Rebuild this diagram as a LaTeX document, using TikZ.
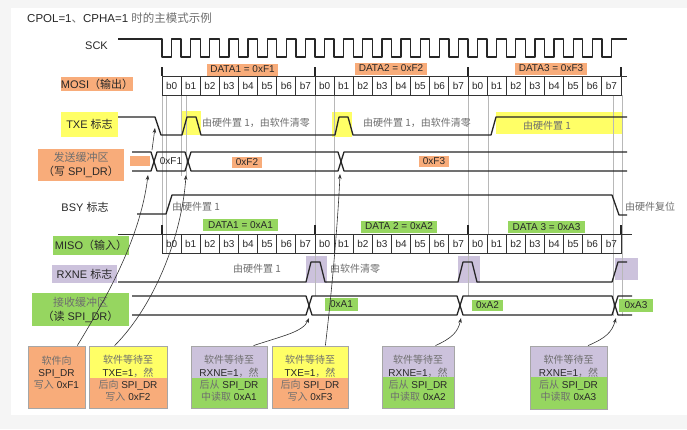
\documentclass[tikz,border=0pt]{standalone}
\usepackage{fontspec}
\setmainfont{Liberation Sans}
\newfontfamily\cjk{Noto Sans CJK SC}
\usetikzlibrary{arrows.meta,calc}
\definecolor{orng}{RGB}{248,172,122}
\definecolor{yel}{RGB}{255,255,102}
\definecolor{grn}{RGB}{150,214,96}
\definecolor{prp}{RGB}{204,194,220}
\definecolor{bgg}{RGB}{245,245,245}
\definecolor{txt}{RGB}{40,40,40}
\definecolor{zh}{RGB}{110,110,110}
\tikzset{
  sig/.style={line width=1.3pt, draw=black!85, line join=round},
  bitbox/.style={draw=black!80, line width=0.8pt},
  bytetick/.style={draw=black!85, line width=1.3pt},
  guide/.style={draw=black!28, line width=0.45pt},
  arr/.style={-{Stealth[length=5pt,width=3.6pt]}, line width=0.6pt, draw=black!80},
  ann/.style={font=\cjk\fontsize{10}{12}\selectfont, text=zh, inner sep=0pt, anchor=west},
  tag/.style={inner sep=0pt, font=\fontsize{10}{12}\selectfont, text=txt},
  bit/.style={inner sep=0pt, font=\fontsize{10}{12}\selectfont, text=txt},
  lab/.style={inner sep=0pt, font=\fontsize{11}{14}\selectfont, text=txt, align=center},
  bxframe/.style={draw=black!35, line width=0.8pt, inner sep=0pt},
  bxtext/.style={inner sep=0pt, font=\fontsize{10}{12.3}\selectfont, text=txt, align=center},
}
\newcommand{\zht}[1]{{\cjk\color{zh}#1}}
\begin{document}
\begin{tikzpicture}[x=1pt,y=-1pt]
\useasboundingbox (0,0) rectangle (687,429);
\fill[bgg] (0,0) rectangle (687,429);
\fill[white] (11,8) rectangle (687,415);

% title
\node[anchor=west, inner sep=0pt, font=\fontsize{11.5}{14}\selectfont, text=txt] (title) at (27,18) {CPOL=1\zht{、}CPHA=1 \zht{时的主模式示例}};

% highlight fills
\fill[yel] (182,111) rectangle (201,135);
\fill[yel] (332,112) rectangle (352,137);
\fill[yel] (496,112) rectangle (622,134);
\fill[prp] (306,256) rectangle (327,283);
\fill[prp] (458,256) rectangle (480,283);
\fill[prp] (615,258) rectangle (638,280);

% guide lines
\foreach \x in {162,166} {\draw[guide] (\x,95) -- (\x,253);}
\foreach \x in {181,186} {\draw[guide] (\x,95) -- (\x,176);}
\foreach \x in {334,488} {\draw[guide] (\x,95) -- (\x,234);}
\foreach \x in {315,468} {\draw[guide] (\x,95) -- (\x,296);}
\foreach \x in {613,622} {\draw[guide] (\x,95) -- (\x,316);}

% left labels
\node[lab] (sckl) at (96.5,46) {SCK};
\node[lab, fill=orng, minimum width=72pt, minimum height=14pt] (mosil) at (97,84) {MOSI{\cjk（输出）}};
\node[lab, fill=yel, minimum width=57pt, minimum height=25pt] (txel) at (89.5,124.5) {TXE {\cjk 标志}};
\node[lab, fill=orng, minimum width=86pt, minimum height=32pt] (txbl) at (81,165) {\zht{发送缓冲区}\\{\cjk（写} SPI\_DR{\cjk）}};
\node[lab] (bsyl) at (85,207) {BSY {\cjk 标志}};
\node[lab, fill=grn, minimum width=76pt, minimum height=19pt] (misol) at (91,245.5) {MISO{\cjk（输入）}};
\node[lab, fill=prp, minimum width=65pt, minimum height=18pt] (rxnel) at (84.5,274) {RXNE {\cjk 标志}};
\node[lab, fill=grn, minimum width=97pt, minimum height=33pt] (rxbl) at (80.5,309.5) {\zht{接收缓冲区}\\{\cjk（读} SPI\_DR{\cjk）}};

% SCK
\draw[sig] (118,39) foreach \k in {0,...,23} { -- ({162+19.125*\k},39) -- ++(0,18) -- ++(9.5625,0) -- ++(0,-18) } -- (627,39);

% MOSI / MISO bit boxes
\draw[bitbox] (162,76) -- (627,76);
\draw[bitbox] (118,234) -- (632,234);
\foreach \k in {0,...,23} {
  \pgfmathsetmacro\xs{162+19.125*\k}
  \pgfmathtruncatemacro\bb{mod(\k,8)}
  \draw[bitbox] (\xs,76) rectangle ++(19.125,19);
  \node[bit] (mo\k) at (\xs+9.5625,85.5) {b\bb};
  \draw[bitbox] (\xs,234) rectangle ++(19.125,19);
  \node[bit] (mi\k) at (\xs+9.5625,243.5) {b\bb};
}
\foreach \x in {162,315,468,621} {
  \draw[bytetick] (\x,67) -- (\x,76);
  \draw[bytetick] (\x,225) -- (\x,234);
}
\node[tag, fill=orng, minimum width=71pt, minimum height=12pt] (d1) at (242.5,69.5) {DATA1 = 0xF1};
\node[tag, fill=orng, minimum width=72pt, minimum height=12pt] (d2) at (391,68.5) {DATA2 = 0xF2};
\node[tag, fill=orng, minimum width=72pt, minimum height=12pt] (d3) at (551,68.5) {DATA3 = 0xF3};
\node[tag, fill=grn, minimum width=75pt, minimum height=12pt] (r1) at (240.5,225) {DATA1 = 0xA1};
\node[tag, fill=grn, minimum width=76pt, minimum height=12pt] (r2) at (399,226.5) {DATA 2 = 0xA2};
\node[tag, fill=grn, minimum width=77pt, minimum height=12pt] (r3) at (546.5,227) {DATA 3 = 0xA3};

% TXE
\draw[sig] (118,117) -- (155,117) -- (161,135) -- (182,135) -- (187,117) -- (196,117) -- (201,135)
  -- (335,135) -- (339,117) -- (348,117) -- (353,135) -- (491,135) -- (496,117) -- (627,117);
\node[ann] (txa1) at (202,123) {由硬件置 1，由软件清零};
\node[ann] (txa2) at (363,123) {由硬件置 1，由软件清零};
\node[ann] (txa3) at (523,126) {由硬件置 1};

% transmit buffer
\fill[orng] (130,156) rectangle (150,166);
\draw[sig] (132,152) -- (151,152) -- (157,171) -- (185,171) -- (191,152) -- (338,152) -- (344,171) -- (627,171);
\draw[sig] (132,171) -- (151,171) -- (157,152) -- (185,152) -- (191,171) -- (338,171) -- (344,152) -- (627,152);
\node[tag] (f1) at (171,161.5) {0xF1};
\node[tag, fill=orng, minimum width=30pt, minimum height=11pt] (f2) at (247,162.5) {0xF2};
\node[tag, fill=orng, minimum width=30pt, minimum height=11pt] (f3) at (434,161.5) {0xF3};

% BSY
\draw[sig] (137,214) -- (166,214) -- (172,195) -- (612,195) -- (619,215) -- (627,215);
\node[ann] (bsa1) at (172,207) {由硬件置 1};
\node[ann] (bsa2) at (625,207) {由硬件复位};

% RXNE
\draw[sig] (118,282) -- (306,282) -- (311,262) -- (320,262) -- (325,282) -- (458,282) -- (463,262)
  -- (472,262) -- (477,282) -- (612,282) -- (618,262) -- (627,262);
\node[ann] (rxa1) at (233,269) {由硬件置 1};
\node[ann] (rxa2) at (330,269) {由软件清零};

% receive buffer
\draw[sig] (132,296) -- (306,296) -- (312,315) -- (457,315) -- (463,296) -- (612,296) -- (618,315) -- (632,315);
\draw[sig] (132,315) -- (306,315) -- (312,296) -- (457,296) -- (463,315) -- (612,315) -- (618,296) -- (632,296);
\node[tag, fill=grn, minimum width=33pt, minimum height=13pt] (a1) at (341.5,304.5) {0xA1};
\node[tag, fill=grn, minimum width=31pt, minimum height=11pt] (a2) at (487.5,305) {0xA2};
\node[tag, fill=grn, minimum width=34pt, minimum height=13pt] (a3) at (636,305.5) {0xA3};

% bottom boxes
\fill[orng] (28,346) rectangle (85,408);
\fill[yel] (89,346) rectangle (167,378); \fill[orng] (89,378) rectangle (167,408);
\fill[prp] (191,346) rectangle (267,378); \fill[grn] (191,378) rectangle (267,408);
\fill[yel] (272,346) rectangle (348,378); \fill[orng] (272,378) rectangle (348,408);
\fill[prp] (382,346) rectangle (454,377); \fill[grn] (382,377) rectangle (454,408);
\fill[prp] (530,346) rectangle (607,377); \fill[grn] (530,377) rectangle (607,409);
\node[bxframe, minimum width=57pt, minimum height=62pt] (bx1) at (56.5,377) {};
\node[bxframe, minimum width=78pt, minimum height=62pt] (bx2) at (128,377) {};
\node[bxframe, minimum width=76pt, minimum height=62pt] (bx3) at (229,377) {};
\node[bxframe, minimum width=76pt, minimum height=62pt] (bx4) at (310,377) {};
\node[bxframe, minimum width=72pt, minimum height=62pt] (bx5) at (418,377) {};
\node[bxframe, minimum width=77pt, minimum height=63pt] (bx6) at (568.5,377.5) {};
\node[bxtext] (bt1) at (56.5,372.5) {\zht{软件向}\\SPI\_DR\\\zht{写入} 0xF1};
\node[bxtext] (bt2) at (128,378.5) {\zht{软件等待至}\\TXE=1\zht{，然}\\\zht{后向} SPI\_DR\\\zht{写入} 0xF2};
\node[bxtext] (bt3) at (229,378.5) {\zht{软件等待至}\\RXNE=1\zht{，然}\\\zht{后从} SPI\_DR\\\zht{中读取} 0xA1};
\node[bxtext] (bt4) at (310,378.5) {\zht{软件等待至}\\TXE=1\zht{，然}\\\zht{后向} SPI\_DR\\\zht{写入} 0xF3};
\node[bxtext] (bt5) at (418,378.5) {\zht{软件等待至}\\RXNE=1\zht{，然}\\\zht{后从} SPI\_DR\\\zht{中读取} 0xA2};
\node[bxtext] (bt6) at (568.5,378.5) {\zht{软件等待至}\\RXNE=1\zht{，然}\\\zht{后从} SPI\_DR\\\zht{中读取} 0xA3};

% arrow targets
\coordinate (tx1) at (152,150);
\coordinate (tf) at (155,128);
\coordinate (t1) at (148,175);
\coordinate (t2) at (186,175);
\coordinate (t3) at (309,318);
\coordinate (t4) at (340,174);
\coordinate (t5) at (461,318);
\coordinate (t6) at (616,318);

\draw[arr] (tx1) -- (tf);
\draw[arr] ($(bx1.north west)!0.86!(bx1.north east)$) .. controls (105,300) and (140,240) .. (t1);
\draw[arr] ($(bx2.north west)!0.33!(bx2.north east)$) .. controls (155,305) and (182,235) .. (t2);
\draw[arr] ($(bx3.north west)!0.82!(bx3.north east)$) .. controls (282,336) and (303,332) .. (t3);
\draw[arr] ($(bx4.north west)!0.70!(bx4.north east)$) .. controls (332,290) and (338,220) .. (t4);
\draw[arr] ($(bx5.north west)!0.74!(bx5.north east)$) .. controls (452,338) and (458,332) .. (t5);
\draw[arr] ($(bx6.north west)!0.75!(bx6.north east)$) .. controls (606,338) and (612,332) .. (t6);
\end{tikzpicture}
\end{document}
